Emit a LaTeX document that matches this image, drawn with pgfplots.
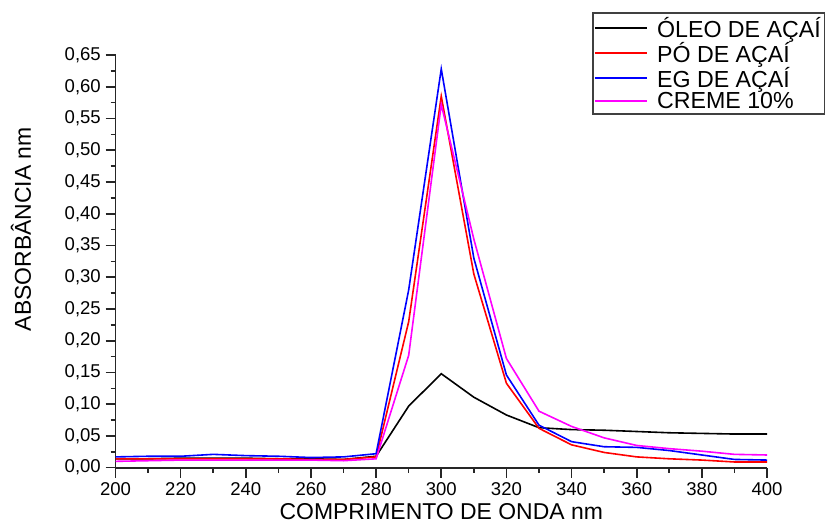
\documentclass[border=0pt]{standalone}
\usepackage{fontspec}
\setmainfont{Liberation Sans}
\usepackage{pgfplots}
\pgfplotsset{compat=1.18}
\definecolor{cblack}{RGB}{0,0,0}
\definecolor{cred}{RGB}{255,0,0}
\definecolor{cblue}{RGB}{0,0,255}
\definecolor{cmag}{RGB}{255,0,255}
\pgfplotstableread{
x black red blue magenta
200 0.014 0.014 0.017 0.010
210 0.014 0.014 0.018 0.011
220 0.015 0.014 0.018 0.012
230 0.015 0.014 0.021 0.012
240 0.015 0.014 0.019 0.012
250 0.014 0.014 0.018 0.012
260 0.014 0.013 0.016 0.012
270 0.013 0.013 0.017 0.011
280 0.018 0.017 0.022 0.014
290 0.097 0.230 0.280 0.177
300 0.148 0.585 0.628 0.572
310 0.111 0.305 0.330 0.360
320 0.083 0.133 0.146 0.172
330 0.063 0.062 0.067 0.089
340 0.060 0.036 0.041 0.065
350 0.059 0.024 0.033 0.047
360 0.057 0.017 0.032 0.035
370 0.055 0.014 0.027 0.030
380 0.054 0.012 0.020 0.026
390 0.053 0.009 0.013 0.021
400 0.053 0.009 0.012 0.020
}\data
\begin{document}
\begin{tikzpicture}
\begin{axis}[
  scale only axis,
  width=488.6pt, height=309.5pt,
  xmin=200, xmax=400, ymin=0, ymax=0.65,
  axis x line=bottom, axis y line=left,
  axis line style={-, line width=1.3pt, black!85},
  xtick={200,220,...,400}, minor x tick num=1,
  ytick={0,0.05,...,0.66}, minor y tick num=1,
  tick align=outside,
  major tick length=7.5pt, minor tick length=3.75pt,
  tick style={line width=1.2pt, black!85},
  /pgf/number format/assume math mode=true,
  yticklabel style={/pgf/number format/.cd, fixed, fixed zerofill, precision=2, use comma},
  xticklabel style={/pgf/number format/.cd, fixed, precision=0},
  ticklabel style={font=\fontsize{13.9}{16}\selectfont},
  xlabel={COMPRIMENTO DE ONDA nm},
  ylabel={ABSORB\^{A}NCIA nm},
  label style={font=\fontsize{17.2}{19}\selectfont},
  xlabel style={at={(rel axis cs:0.5,-0.1267)}, anchor=base},
  ylabel style={at={(rel axis cs:-0.145,0.578)}, anchor=center},
  legend cell align=left,
  legend style={at={(rel axis cs:0.7314,1.104)}, anchor=north west,
    draw=black!75, line width=1.2pt, fill=white,
    font=\fontsize{17.4}{18}\selectfont, inner sep=1pt,
    row sep=-1.8pt,
    nodes={inner sep=2pt},
    /tikz/every odd column/.append style={column sep=5pt}},
  legend image code/.code={\draw[#1, line width=1.2pt] (2pt,0pt) -- (41pt,0pt);},
  clip=false,
]
\addplot[cblack, line width=1.2pt] table[x=x, y=black] {\data};
\addlegendentry{\'{O}LEO DE A\c{C}A\'{I}}
\addplot[cred, line width=1.2pt] table[x=x, y=red] {\data};
\addlegendentry{P\'{O} DE A\c{C}A\'{I}}
\addplot[cblue, line width=1.2pt] table[x=x, y=blue] {\data};
\addlegendentry{EG DE A\c{C}A\'{I}}
\addplot[cmag, line width=1.2pt] table[x=x, y=magenta] {\data};
\addlegendentry{CREME 10\%}
\coordinate (bl) at (rel axis cs:-0.1773,-0.134);
\coordinate (tr) at (rel axis cs:1.089,1.1333);
\end{axis}
\pgfresetboundingbox
\useasboundingbox (bl) rectangle (tr);
\end{tikzpicture}
\end{document}
